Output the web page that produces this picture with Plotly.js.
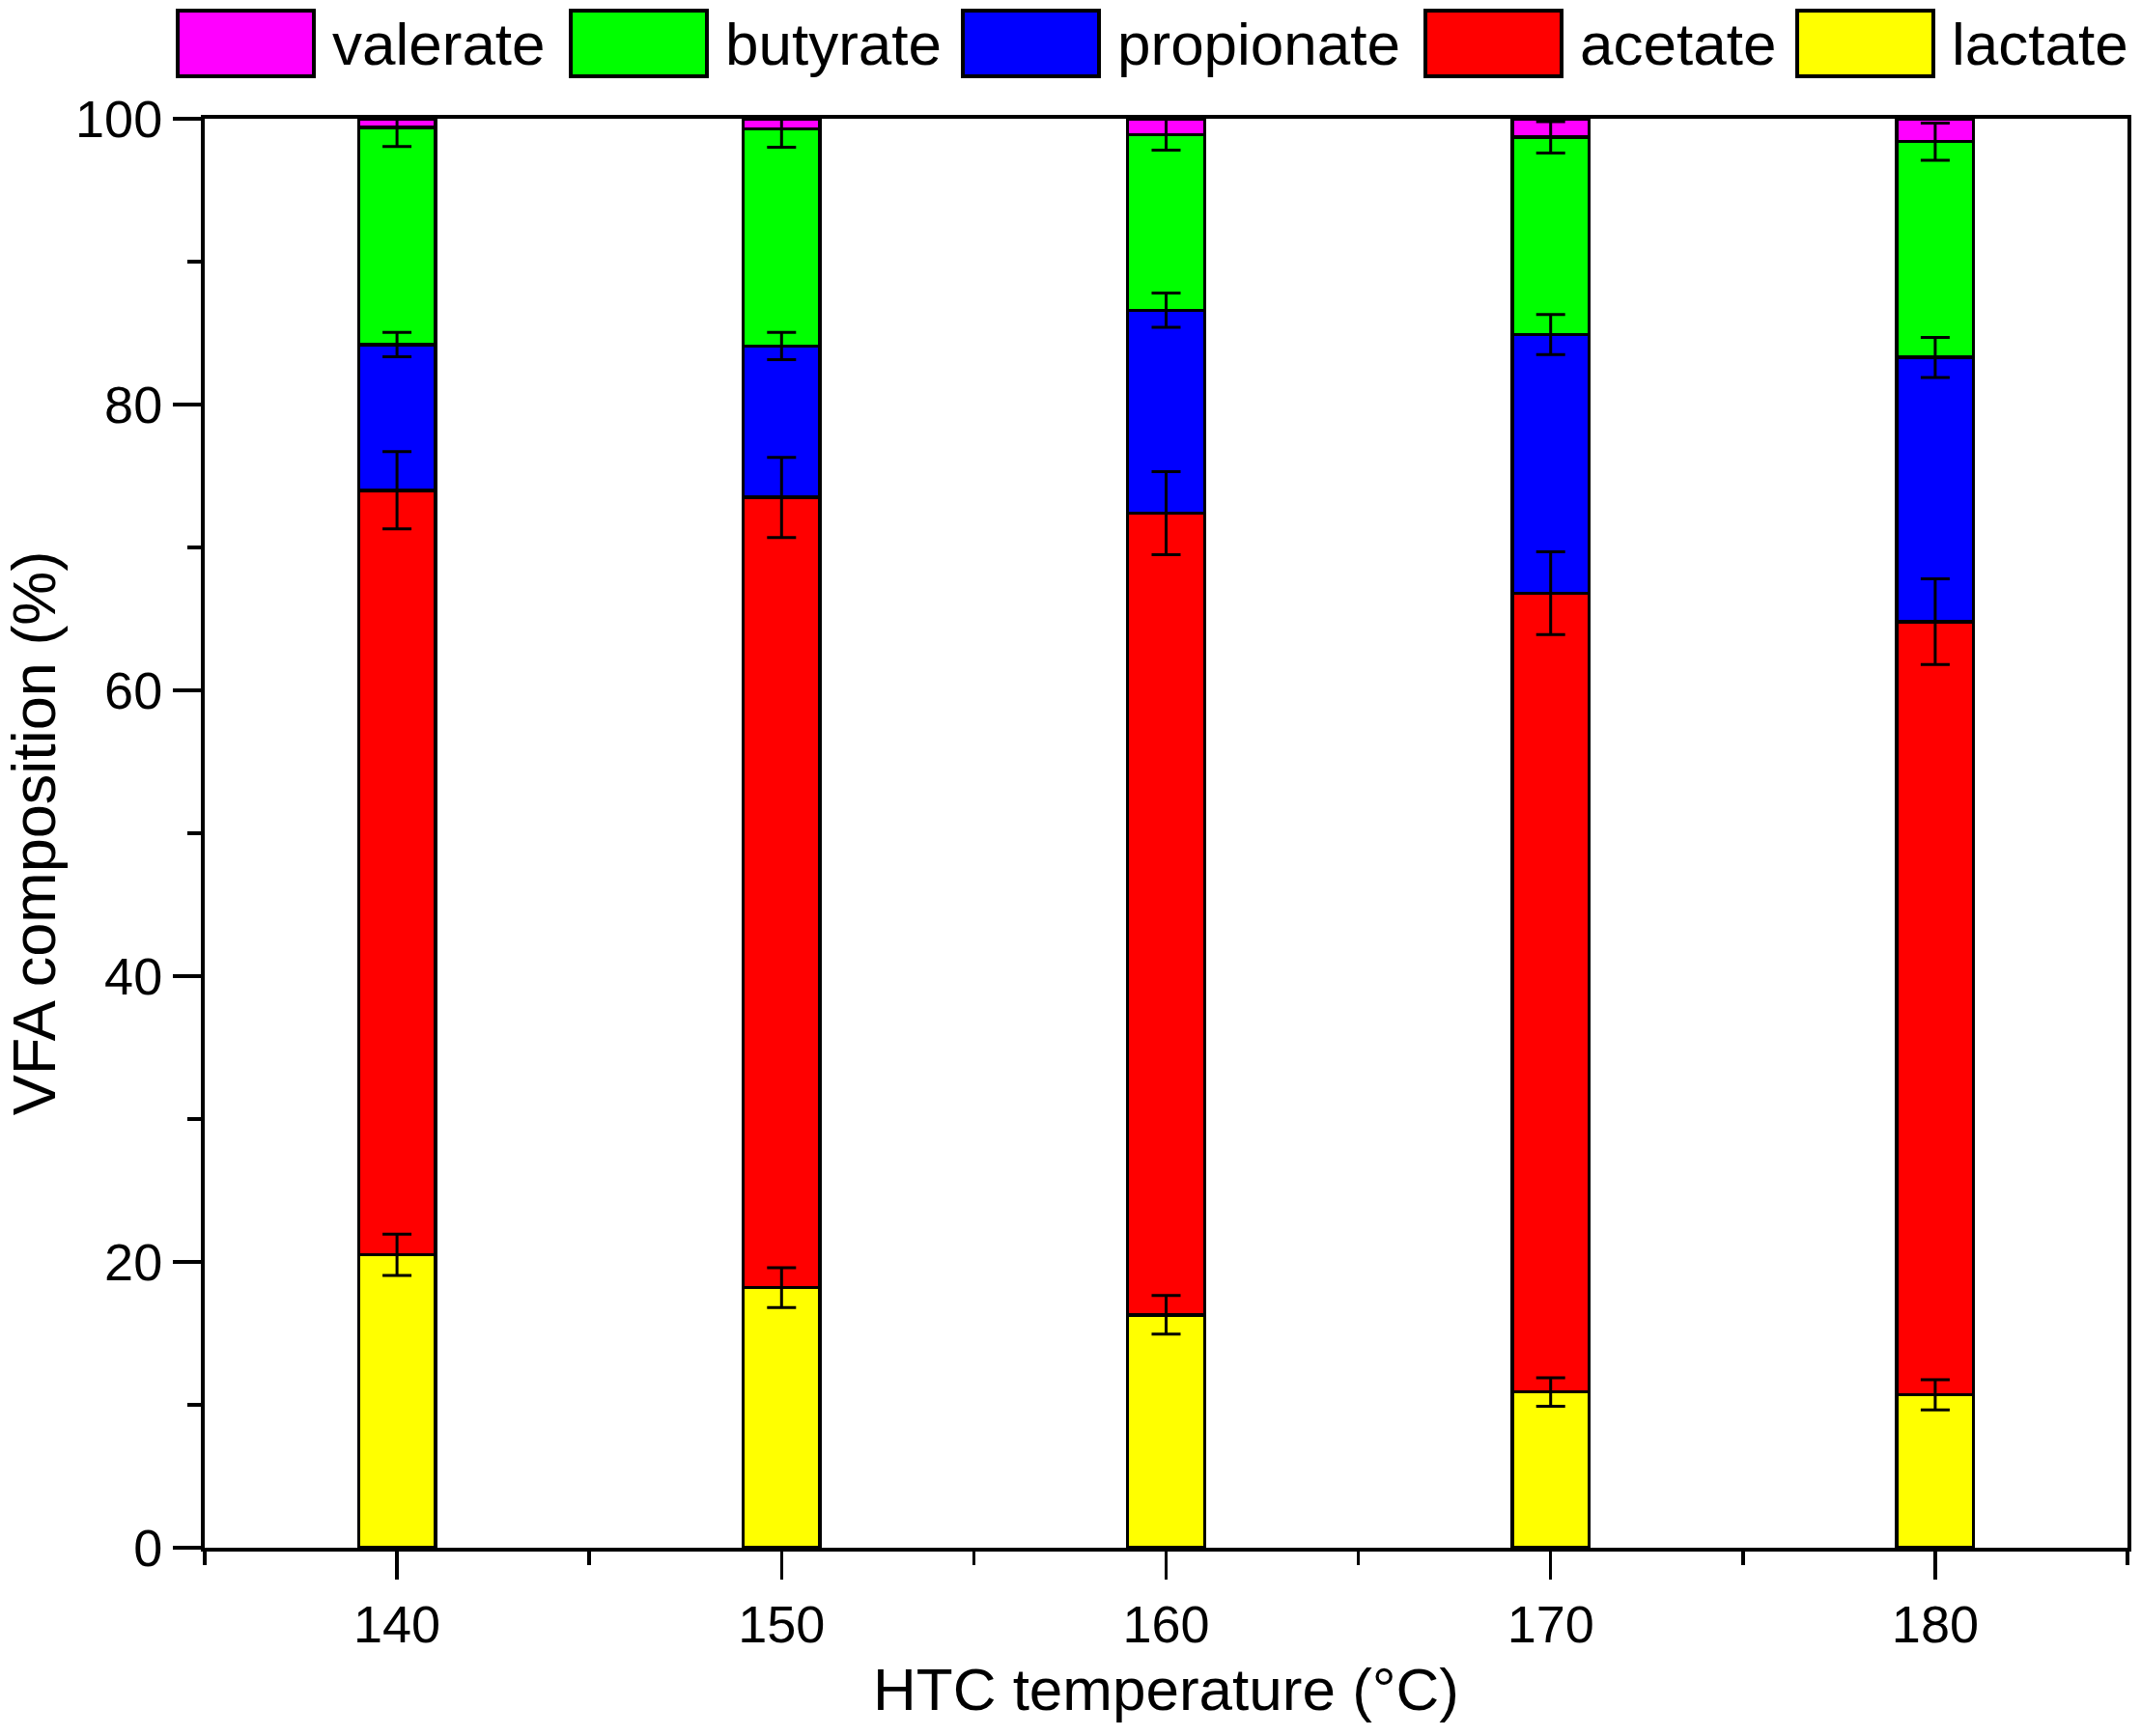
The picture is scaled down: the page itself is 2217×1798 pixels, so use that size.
<!DOCTYPE html>
<html>
<head>
<meta charset="utf-8">
<script src="https://cdn.plot.ly/plotly-3.0.1.min.js"></script>
<style>
  html, body { margin: 0; padding: 0; background: #fff; }
  #plot { width: 2217px; height: 1798px; }
</style>
</head>
<body>
<div id="plot"></div>
<script>
// HTC temperature (°C)
var temps = [140, 150, 160, 170, 180];

// segment sizes (%), bottom to top
var lactate    = [20.5, 18.2, 16.3, 10.9, 10.7];
var acetate    = [53.5, 55.3, 56.1, 55.9, 54.1];
var propionate = [10.2, 10.6, 14.2, 18.1, 18.5];
var butyrate   = [15.2, 15.2, 12.3, 13.8, 15.1];
var valerate   = [0.6, 0.7, 1.1, 1.3, 1.6];

// standard deviations
var lactateErr    = [1.45, 1.4, 1.35, 1.0, 1.05];
var acetateErr    = [2.7, 2.8, 2.9, 2.9, 3.0];
var propionateErr = [0.85, 0.95, 1.2, 1.4, 1.4];
var butyrateErr   = [1.35, 1.3, 1.1, 1.1, 1.3];

var names  = ['lactate', 'acetate', 'propionate', 'butyrate', 'valerate'];
var colors = ['#FFFF00', '#FF0000', '#0000FF', '#00FF00', '#FF00FF'];
var series = [lactate, acetate, propionate, butyrate, valerate];
var errs   = [lactateErr, acetateErr, propionateErr, butyrateErr, null];

var fontFam = 'Liberation Sans, Arial, sans-serif';

var traces = [];
for (var i = 0; i < series.length; i++) {
    traces.push({
        x: temps,
        y: series[i],
        name: names[i],
        type: 'bar',
        width: 2,
        marker: {color: colors[i], line: {color: '#000', width: 3.5}},
        showlegend: false,
        hoverinfo: 'name+y'
    });
}

// error bars sit on top of every segment, drawn above all the bars
var running = [0, 0, 0, 0, 0];
for (i = 0; i < series.length; i++) {
    var tops = [];
    for (var j = 0; j < temps.length; j++) {
        running[j] += series[i][j];
        tops.push(running[j]);
    }
    if (!errs[i]) continue;
    traces.push({
        x: temps,
        y: tops,
        type: 'scatter',
        mode: 'markers',
        marker: {size: 1, opacity: 0},
        error_y: {type: 'data', array: errs[i], visible: true,
                  color: '#000', thickness: 3, width: 15},
        showlegend: false,
        hoverinfo: 'skip'
    });
}

// legend drawn by hand: big swatches like the original
var plotL = 212, plotW = 1991, plotB = 1603, plotH = 1480;
function px(x) { return (x - plotL) / plotW; }
function py(y) { return (plotB - y) / plotH; }

var legendOrder = [4, 3, 2, 1, 0];
var swatchX = [184, 591, 997, 1476, 1861];
var shapes = [], annotations = [];
for (i = 0; i < legendOrder.length; i++) {
    var k = legendOrder[i];
    shapes.push({
        type: 'rect', xref: 'paper', yref: 'paper',
        x0: px(swatchX[i]), x1: px(swatchX[i] + 141),
        y0: py(79), y1: py(11),
        fillcolor: colors[k], line: {color: '#000', width: 4}
    });
    annotations.push({
        xref: 'paper', yref: 'paper',
        x: px(swatchX[i] + 158), y: py(46),
        xanchor: 'left', yanchor: 'middle',
        text: names[k], showarrow: false,
        font: {family: fontFam, size: 62, color: '#000'}
    });
}

var layout = {
    width: 2217,
    height: 1798,
    barmode: 'stack',
    paper_bgcolor: '#fff',
    plot_bgcolor: '#fff',
    margin: {l: 212, r: 14, t: 123, b: 195},
    font: {family: fontFam, color: '#000'},
    showlegend: false,
    xaxis: {
        range: [135, 185],
        tick0: 140, dtick: 10,
        ticks: 'outside', ticklen: 29, tickwidth: 3.5, tickcolor: '#000',
        minor: {tick0: 135, dtick: 5, ticks: 'outside', ticklen: 14, tickwidth: 3.5, tickcolor: '#000'},
        showline: true, linewidth: 4, linecolor: '#000', mirror: true,
        showgrid: false, zeroline: false,
        tickfont: {size: 54},
        title: {text: 'HTC temperature (°C)', font: {size: 62}, standoff: 18}
    },
    yaxis: {
        range: [0, 100],
        tick0: 0, dtick: 20,
        ticks: 'outside', ticklen: 29, tickwidth: 3.5, tickcolor: '#000',
        minor: {dtick: 10, ticks: 'outside', ticklen: 14, tickwidth: 3.5, tickcolor: '#000'},
        showline: true, linewidth: 4, linecolor: '#000', mirror: true,
        showgrid: false, zeroline: false,
        tickfont: {size: 54},
        title: {text: 'VFA composition (%)', font: {size: 63}, standoff: 6}
    },
    shapes: shapes,
    annotations: annotations
};

Plotly.newPlot('plot', traces, layout, {displayModeBar: false, staticPlot: true});
</script>
</body>
</html>
